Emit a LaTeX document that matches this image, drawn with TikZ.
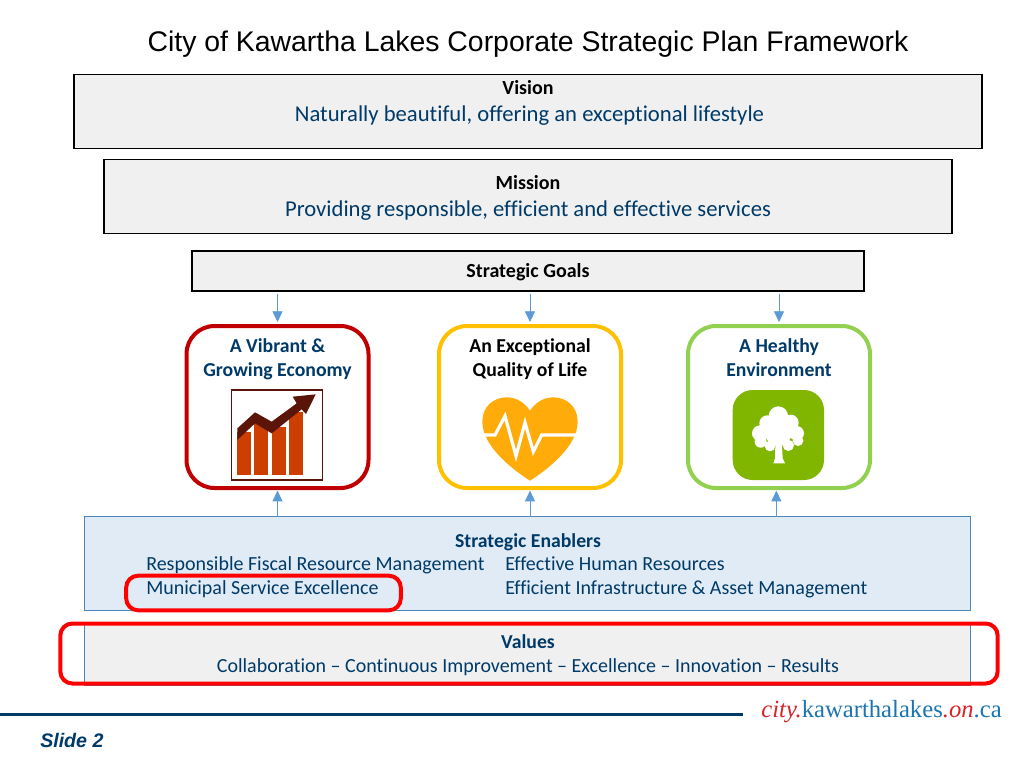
\documentclass[tikz,border=0pt]{standalone}
\usepackage{fontspec}
\setmainfont[Ligatures=NoCommon]{Carlito}
\newfontfamily\titlefont{Liberation Sans}
\newfontfamily\urlfont{Liberation Serif}
\usetikzlibrary{arrows.meta}
\definecolor{navy}{HTML}{003A68}
\definecolor{boxgrey}{HTML}{F0F0F0}
\definecolor{arrowblue}{HTML}{5B9BD5}
\definecolor{enablefill}{HTML}{E1EBF5}
\definecolor{enableline}{HTML}{4F86B8}
\definecolor{pillred}{HTML}{C00000}
\definecolor{pillyellow}{HTML}{FFC000}
\definecolor{pillgreen}{HTML}{92D050}
\definecolor{heartorange}{HTML}{FFAB0A}
\definecolor{treegreen}{HTML}{80B500}
\definecolor{barorange}{HTML}{CC3F00}
\definecolor{chartdark}{HTML}{5A1408}
\definecolor{markred}{HTML}{FF0000}
\definecolor{urlred}{HTML}{D8232A}
\definecolor{urlblue}{HTML}{1B75AE}
\tikzset{
  px/.style={x=0.75pt,y=-0.75pt},
  greybox/.style={draw=black,line width=0.8pt,fill=boxgrey,inner sep=0pt,outer sep=0pt},
  pillar/.style={draw,line width=3pt,fill=white,rounded corners=21pt,inner sep=0pt,outer sep=0pt,minimum width=136.5pt,minimum height=121.5pt},
  bandbox/.style={draw=enableline,line width=0.8pt,inner sep=0pt,outer sep=0pt},
  redmark/.style={draw=markred,line width=3pt,rounded corners=9pt,inner sep=0pt,outer sep=0pt},
  headtxt/.style={anchor=base,font=\fontsize{15}{17}\selectfont\bfseries,inner sep=0pt},
  bodytxt/.style={anchor=base,font=\fontsize{17}{19}\selectfont,text=navy,inner sep=0pt},
  smalltxt/.style={anchor=base,font=\fontsize{15}{17}\selectfont,text=navy,inner sep=0pt},
  leftsmall/.style={anchor=base west,font=\fontsize{15}{17}\selectfont,text=navy,inner sep=0pt},
  pilltxt/.style={anchor=base,font=\fontsize{14.8}{17}\selectfont\bfseries,text=navy,inner sep=0pt},
  link/.style={draw=arrowblue,line width=0.6pt,-{Triangle[length=8pt,width=7.5pt]}},
}
\begin{document}
\begin{tikzpicture}[px]
\useasboundingbox (0,0) rectangle (1024,768);
\fill[white] (0,0) rectangle (1024,768);
% title
\node[anchor=base,inner sep=0pt,font=\titlefont\fontsize{21.3}{25}\selectfont] (title) at (528,51) {City of Kawartha Lakes Corporate Strategic Plan Framework};
% boxes
\node[greybox,minimum width=681pt,minimum height=56pt] (vision) at (528,111.5) {};
\node[headtxt] (visionh) at (528,94.5) {Vision};
\node[bodytxt] (visiont) at (529.5,121.5) {Naturally beautiful, offering an exceptional lifestyle};
\node[greybox,minimum width=636pt,minimum height=56pt] (mission) at (528,196.5) {};
\node[headtxt] (missionh) at (528,189.5) {Mission};
\node[bodytxt] (missiont) at (528,216.5) {Providing responsible, efficient and effective services};
\node[greybox,minimum width=504pt,minimum height=30pt] (goals) at (528,271) {};
\node[headtxt] (goalsh) at (528,277.5) {Strategic Goals};
% pillars
\node[pillar,draw=pillred] (p1) at (277.5,407) {};
\node[pillar,draw=pillyellow] (p2) at (530,407) {};
\node[pillar,draw=pillgreen] (p3) at (779,407) {};
\node[pilltxt] (p1a) at (277.5,352.5) {A Vibrant \&};
\node[pilltxt] (p1b) at (277.5,376.5) {Growing Economy};
\node[pilltxt,text=black] (p2a) at (530,352.5) {An Exceptional};
\node[pilltxt,text=black] (p2b) at (530,376.5) {Quality of Life};
\node[pilltxt] (p3a) at (779,352.5) {A Healthy};
\node[pilltxt] (p3b) at (779,376.5) {Environment};
% bands
\node[bandbox,fill=enablefill,minimum width=665pt,minimum height=70pt] (enablers) at (527.5,563.5) {};
\node[bandbox,fill=boxgrey,minimum width=665pt,minimum height=47pt] (values) at (527.5,654) {};
\node[pilltxt] (eh) at (528,547.5) {Strategic Enablers};
\node[leftsmall] (e1) at (146,570.5) {Responsible Fiscal Resource Management};
\node[leftsmall] (e2) at (505,570.5) {Effective Human Resources};
\node[leftsmall] (e3) at (146,594.5) {Municipal Service Excellence};
\node[leftsmall] (e4) at (505,594.5) {Efficient Infrastructure \& Asset Management};
\node[pilltxt] (vh) at (528,648.5) {Values};
\node[smalltxt] (vt) at (528,672.5) {Collaboration – Continuous Improvement – Excellence – Innovation – Results};
% highlight frames
\node[redmark,minimum width=206pt,minimum height=26pt] (mark1) at (263.5,593) {};
\node[redmark,minimum width=703pt,minimum height=45pt] (mark2) at (529,653.5) {};
% connectors
\draw[link,shorten <=2pt,shorten >=3pt] (goals.south -| p1.north) -- (p1.north);
\draw[link,shorten <=2pt,shorten >=3pt] (goals.south -| p2.north) -- (p2.north);
\draw[link,shorten <=2pt,shorten >=3pt] (goals.south -| p3.north) -- (p3.north);
\draw[link,shorten >=2pt] (enablers.north -| p1.south) -- (p1.south);
\draw[link,shorten >=2pt] (enablers.north -| p2.south) -- (p2.south);
\draw[link,shorten >=2pt] ([xshift=-2pt]enablers.north -| p3.south) -- ([xshift=-2pt]p3.south);
% chart icon
\begin{scope}[shift={(170,290)},x=0.25pt,y=-0.25pt]
\draw[fill=white,draw=chartdark,line width=0.8pt] (185,300) rectangle (457,570);
\fill[barorange] (201,425) rectangle (242,555);
\fill[barorange] (253,395) rectangle (295,555);
\fill[barorange] (306,410) rectangle (347,555);
\fill[barorange] (358,365) rectangle (399,555);
\fill[chartdark] (202,415) -- (255,367) -- (305,395) -- (380,340) -- (368,320) -- (437,313) -- (408,372) -- (395,358) -- (305,430) -- (255,400) -- (202,450) -- cycle;
\end{scope}
% heart icon
\begin{scope}[shift={(430,290)},x=0.25pt,y=-0.25pt]
\fill[heartorange] (300,572) .. controls (250,540) and (157,470) .. (157,395)
  .. controls (157,350) and (190,322) .. (230,322)
  .. controls (262,322) and (285,340) .. (300,362)
  .. controls (315,340) and (338,322) .. (370,322)
  .. controls (410,322) and (443,350) .. (443,395)
  .. controls (443,470) and (350,540) .. (300,572) -- cycle;
\draw[white,line width=2.4pt,line join=miter] (155,435) -- (195,435) -- (225,378) -- (258,498) -- (285,398) -- (310,485) -- (335,435) -- (446,435);
\end{scope}
% tree icon
\begin{scope}[shift={(430,290)},x=0.25pt,y=-0.25pt]
\fill[treegreen,rounded corners=15pt] (908,300) rectangle (1182,570);
\fill[white] (1045,378) circle[radius=29];
\fill[white] (1012,400) circle[radius=24];
\fill[white] (1082,398) circle[radius=24];
\fill[white] (990,430) circle[radius=24];
\fill[white] (1100,430) circle[radius=22];
\fill[white] (1045,425) circle[radius=42];
\fill[white] (992,455) circle[radius=18];
\fill[white] (1104,452) circle[radius=16];
\fill[white] (1020,468) circle[radius=16];
\fill[white] (1075,466) circle[radius=17];
\fill[white] (1036,465) -- (1056,465) -- (1058,505) -- (1065,520) -- (1030,520) -- (1035,505) -- cycle;
\end{scope}
% footer
\coordinate (ruleL) at (0,714.5);
\coordinate (ruleR) at (743,714.5);
\draw[navy,line width=2.6pt] (ruleL) -- (ruleR);
\node[anchor=base east,inner sep=0pt,font=\urlfont\fontsize{18.5}{21}\selectfont,text=urlblue] (url) at (1002,717) {{\color{urlred}\itshape city.}kawarthalakes{\color{urlred}\itshape .on}.ca};
\node[anchor=base west,inner sep=0pt,font=\titlefont\fontsize{14.7}{17}\selectfont\bfseries\itshape,text=navy] (slide) at (40,747) {Slide 2};
\end{tikzpicture}
\end{document}
